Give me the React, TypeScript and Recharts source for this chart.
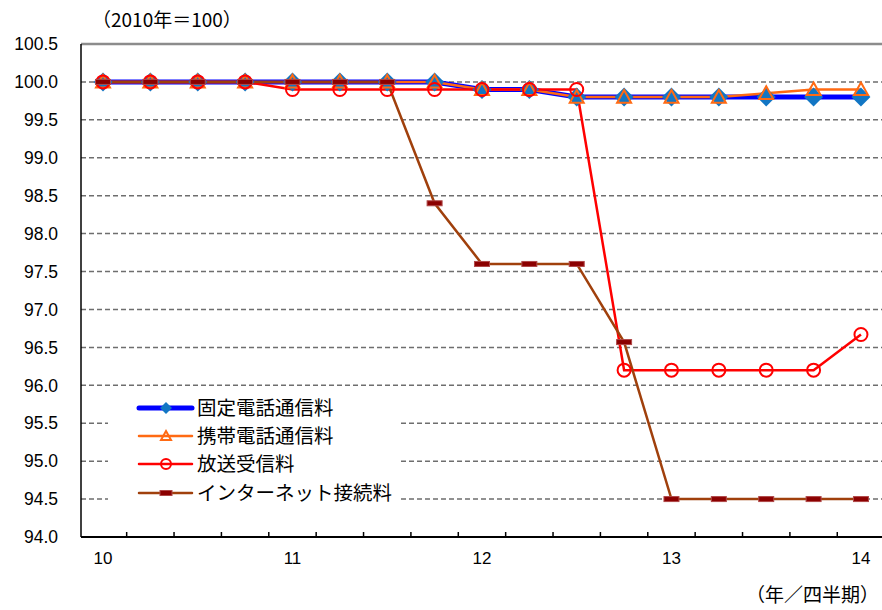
import {
  CartesianGrid,
  Customized,
  Legend,
  Line,
  LineChart,
  ReferenceLine,
  XAxis,
  YAxis,
} from 'recharts';

// quarters: 10 = 2010 Q1 ... 14 = 2014 Q1
const QUARTERS = [10, 10.25, 10.5, 10.75, 11, 11.25, 11.5, 11.75, 12, 12.25, 12.5, 12.75, 13, 13.25, 13.5, 13.75, 14];
const FIXED = [100, 100, 100, 100, 100, 100, 100, 100, 99.9, 99.9, 99.8, 99.8, 99.8, 99.8, 99.8, 99.8, 99.8];
const MOBILE = [100, 100, 100, 100, 100, 100, 100, 100, 99.9, 99.9, 99.8, 99.8, 99.8, 99.8, 99.85, 99.9, 99.9];
const BROADCAST = [100, 100, 100, 100, 99.9, 99.9, 99.9, 99.9, 99.9, 99.9, 99.9, 96.2, 96.2, 96.2, 96.2, 96.2, 96.67];
const INTERNET = [100, 100, 100, 100, 100, 100, 100, 98.4, 97.6, 97.6, 97.6, 96.57, 94.5, 94.5, 94.5, 94.5, 94.5];

const SERIES_NAMES = ['固定電話通信料', '携帯電話通信料', '放送受信料', 'インターネット接続料'];
const YEAR_LABELS = [10, 11, 12, 13, 14];
const Y_TICKS = [94, 94.5, 95, 95.5, 96, 96.5, 97, 97.5, 98, 98.5, 99, 99.5, 100, 100.5];

const data = QUARTERS.map((q, i) => ({
  q,
  fixed: FIXED[i],
  mobile: MOBILE[i],
  broadcast: BROADCAST[i],
  internet: INTERNET[i],
}));

// minor tick marks sit between the quarters
const xTicks = [...YEAR_LABELS, ...QUARTERS.slice(0, -1).map(q => q + 0.125)].sort((a, b) => a - b);

const NUM_FONT = "'Liberation Sans', Arial, sans-serif";
const JP_FONT = "'Noto Sans CJK JP', sans-serif";

const BLUE = '#0000ff';
const DIAMOND = '#1276c4';
const ORANGE = '#ff6a13';
const RED = '#ff0000';
const BROWN = '#a0400c';
const DARKRED = '#8b0000';

// recharts hands r/width/height to custom dots, so sizes use their own prop names
function Diamond({ cx, cy, half = 9.5 }: any) {
  if (cx == null || cy == null) return null;
  const r = half;
  return <path d={`M${cx},${cy - r}L${cx + r},${cy}L${cx},${cy + r}L${cx - r},${cy}Z`} fill={DIAMOND} />;
}

function Triangle({ cx, cy, s = 7 }: any) {
  if (cx == null || cy == null) return null;
  return (
    <path
      d={`M${cx},${cy - s}L${cx + s},${cy + s * 0.8}L${cx - s},${cy + s * 0.8}Z`}
      fill="none"
      stroke={ORANGE}
      strokeWidth={2}
    />
  );
}

function Circle({ cx, cy, rad = 6.5 }: any) {
  if (cx == null || cy == null) return null;
  return <circle cx={cx} cy={cy} r={rad} fill="none" stroke={RED} strokeWidth={2} />;
}

function Dash({ cx, cy, dw = 15, dh = 5 }: any) {
  if (cx == null || cy == null) return null;
  return (
    <rect x={cx - dw / 2} y={cy - dh / 2} width={dw} height={dh} fill={DARKRED} stroke="#b04848" strokeWidth={1} />
  );
}

function XTick({ x, y, payload }: any) {
  const v = payload.value;
  if (Number.isInteger(v)) {
    return (
      <text x={x} y={y + 27} textAnchor="middle" fontSize={17} fontFamily={NUM_FONT} fill="#000">
        {v}
      </text>
    );
  }
  return <line x1={x} x2={x} y1={y} y2={y - 5} stroke="#000" strokeWidth={1.5} />;
}

function LegendBox() {
  const rows = [18, 46, 74, 103];
  const markers = [
    <Diamond key="a" cx={58} cy={rows[0]} half={6} />,
    <Triangle key="b" cx={58} cy={rows[1]} s={5} />,
    <Circle key="c" cx={58} cy={rows[2]} rad={5} />,
    <Dash key="d" cx={58} cy={rows[3]} dw={12} dh={5} />,
  ];
  const colors = [BLUE, ORANGE, RED, BROWN];
  const widths = [5, 2.5, 2.5, 2.5];
  return (
    <svg width={290} height={120}>
      <rect width={290} height={120} fill="#fff" />
      {SERIES_NAMES.map((name, i) => (
        <g key={name}>
          <line x1={31} x2={84} y1={rows[i]} y2={rows[i]} stroke={colors[i]} strokeWidth={widths[i]} strokeLinecap="round" />
          {markers[i]}
          <text x={89} y={rows[i] + 7} fontSize={19.5} fontFamily={JP_FONT} fill="#000">
            {name}
          </text>
        </g>
      ))}
    </svg>
  );
}

function Captions() {
  return (
    <g>
      <text x={92} y={27} fontSize={19} fontFamily={JP_FONT} fill="#000">
        （2010年＝100）
      </text>
      <text x={879} y={602} textAnchor="end" fontSize={19} fontFamily={JP_FONT} fill="#000">
        （年／四半期）
      </text>
    </g>
  );
}

export default function App() {
  return (
    <div style={{ position: 'absolute', left: 0, top: 0, width: 882, height: 610, background: '#fff' }}>
      <LineChart width={882} height={610} data={data} margin={{ top: 44, right: 0, left: 0, bottom: 0 }}>
        <CartesianGrid vertical={false} stroke="#6e6e6e" strokeDasharray="5 3" strokeWidth={1.5} />
        <ReferenceLine y={100.5} stroke="#8c8c8c" strokeWidth={2.5} />
        <XAxis
          dataKey="q"
          type="number"
          domain={[9.884, 14.111]}
          ticks={xTicks}
          interval={0}
          tick={<XTick />}
          tickLine={false}
          tickSize={0}
          tickMargin={0}
          height={73}
          axisLine={{ stroke: '#000', strokeWidth: 2 }}
          allowDataOverflow
        />
        <YAxis
          type="number"
          domain={[94, 100.5]}
          ticks={Y_TICKS}
          interval={0}
          width={81}
          tickLine={false}
          tickSize={0}
          tickMargin={23}
          tickFormatter={(v: number) => v.toFixed(1)}
          tick={{ fontSize: 17.5, fontFamily: NUM_FONT, fill: '#000' }}
          axisLine={{ stroke: '#000', strokeWidth: 1.5 }}
          allowDataOverflow
        />
        <Legend
          content={<LegendBox />}
          layout="vertical"
          verticalAlign="middle"
          align="center"
          wrapperStyle={{ left: 108, top: 390, width: 290, height: 120 }}
        />
        <Line
          dataKey="fixed"
          name={SERIES_NAMES[0]}
          stroke={BLUE}
          strokeWidth={5}
          dot={<Diamond />}
          activeDot={false}
          isAnimationActive={false}
        />
        <Line
          dataKey="mobile"
          name={SERIES_NAMES[1]}
          stroke={ORANGE}
          strokeWidth={2.5}
          dot={<Triangle />}
          activeDot={false}
          isAnimationActive={false}
        />
        <Line
          dataKey="broadcast"
          name={SERIES_NAMES[2]}
          stroke={RED}
          strokeWidth={2.5}
          dot={<Circle />}
          activeDot={false}
          isAnimationActive={false}
        />
        <Line
          dataKey="internet"
          name={SERIES_NAMES[3]}
          stroke={BROWN}
          strokeWidth={2.5}
          dot={<Dash />}
          activeDot={false}
          isAnimationActive={false}
        />
        <Customized component={<Captions />} />
      </LineChart>
    </div>
  );
}
